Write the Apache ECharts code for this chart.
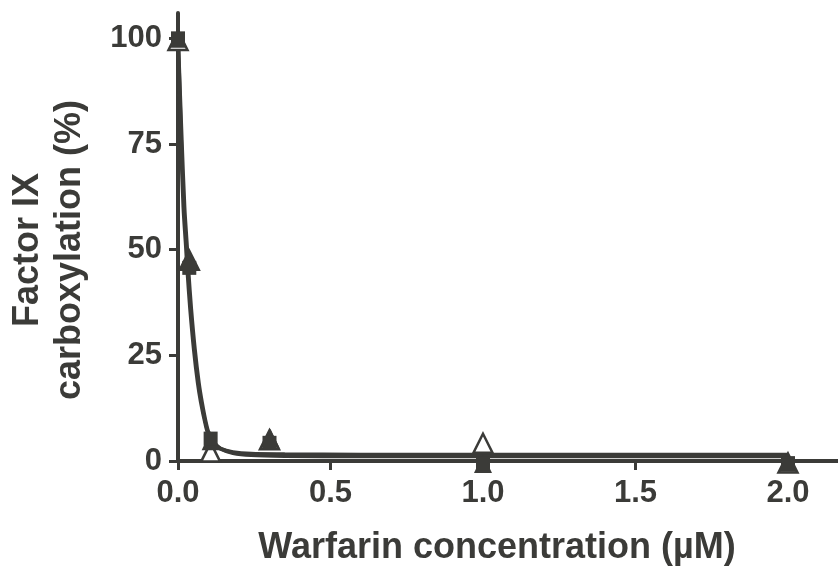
<!DOCTYPE html>
<html><head><meta charset="utf-8">
<script src="https://cdn.jsdelivr.net/npm/echarts@6/dist/echarts.min.js"></script>
<style>html,body{margin:0;padding:0;background:#fff}#c{width:838px;height:570px}</style>
</head><body><div id="c"></div>
<script>
const xTicks = [0, 0.5, 1.0, 1.5, 2.0];
const yTicks = [0, 25, 50, 75, 100];
const squares = [[0,100],[0.037,45.7],[0.107,5.3],[0.3,4.3],[1.0,-0.6],[2.0,-0.5]];
const openTriangles = [[0,99.5],[0.037,47.5],[0.107,2.1],[0.3,5.0],[1.0,4.2],[2.0,-0.5]];
const filledTriangles = [[0,100],[0.037,47.5],[0.107,4.8],[0.303,5.4],[1.0,-0.6],[2.0,-0.3]];
const fitA = [[0,100],[0.01,76],[0.018,60],[0.026,51],[0.031,45],[0.04,36],[0.052,26.5],[0.065,18.5],[0.075,14],[0.09,8.8],[0.1,6.3],[0.12,4],[0.14,2.9],[0.18,2.1],[0.24,1.7],[0.35,1.6],[0.6,1.5],[1.0,1.5],[2.0,1.5]];
const fitB = [[0,100],[0.012,76],[0.021,60],[0.029,51],[0.034,45],[0.043,36],[0.055,26.5],[0.068,18.5],[0.078,14],[0.092,8.8],[0.102,6.3],[0.12,4.2],[0.14,2.9],[0.18,1.9],[0.24,1.4],[0.35,1.2],[0.6,1.1],[1.0,1.1],[2.0,1.1]];

const C = '#3b3b38';
const FONT = 'Liberation Sans, Arial, sans-serif';
const chart = echarts.init(document.getElementById('c'), null, {renderer:'canvas'});
chart.setOption({
  animation:false,
  backgroundColor:'#fff',
  grid:{left:178, top:13, right:0, bottom:109, outerBoundsMode:'none', containLabel:false},
  xAxis:{type:'value', min:0, max:2.164,
    axisLine:{lineStyle:{color:C, width:4}},
    axisTick:{show:true, length:9, lineStyle:{color:C, width:3}, customValues:xTicks},
    axisLabel:{color:C, fontSize:31, fontWeight:'bold', fontFamily:FONT, margin:17, customValues:xTicks,
      formatter:v=>v.toFixed(1)},
    splitLine:{show:false}},
  yAxis:{type:'value', min:0, max:106,
    axisLine:{show:true, lineStyle:{color:C, width:4}},
    axisTick:{show:true, length:9, lineStyle:{color:C, width:3}, customValues:yTicks},
    axisLabel:{color:C, fontSize:31, fontWeight:'bold', fontFamily:FONT, margin:16, customValues:yTicks},
    splitLine:{show:false}},
  graphic:[
    {type:'text', x:49, y:250, rotation:Math.PI/2, style:{text:'Factor IX\ncarboxylation (%)', fill:C,
      font:'bold 36px '+FONT, align:'center', verticalAlign:'middle', lineHeight:42}},
    {type:'text', x:497, y:548, style:{text:'Warfarin concentration (µM)', fill:C,
      font:'bold 36px '+FONT, align:'center', verticalAlign:'middle'}}
  ],
  series:[
    {type:'line', data:fitA, symbol:'none', smooth:0.3, lineStyle:{color:C, width:4}, z:2, clip:false},
    {type:'line', data:fitB, symbol:'none', smooth:0.3, lineStyle:{color:C, width:4}, z:2, clip:false},
    {type:'scatter', data:openTriangles, symbol:'triangle', symbolSize:[19,19], itemStyle:{color:'#fff', borderColor:C, borderWidth:2.5, opacity:1}, z:3, clip:false},
    {type:'scatter', data:filledTriangles, symbol:'triangle', symbolSize:[18,19], itemStyle:{color:C, opacity:1}, z:4, clip:false},
    {type:'scatter', data:squares, symbol:'rect', symbolSize:14, itemStyle:{color:C, opacity:1}, z:5, clip:false}
  ]
});
</script></body></html>
